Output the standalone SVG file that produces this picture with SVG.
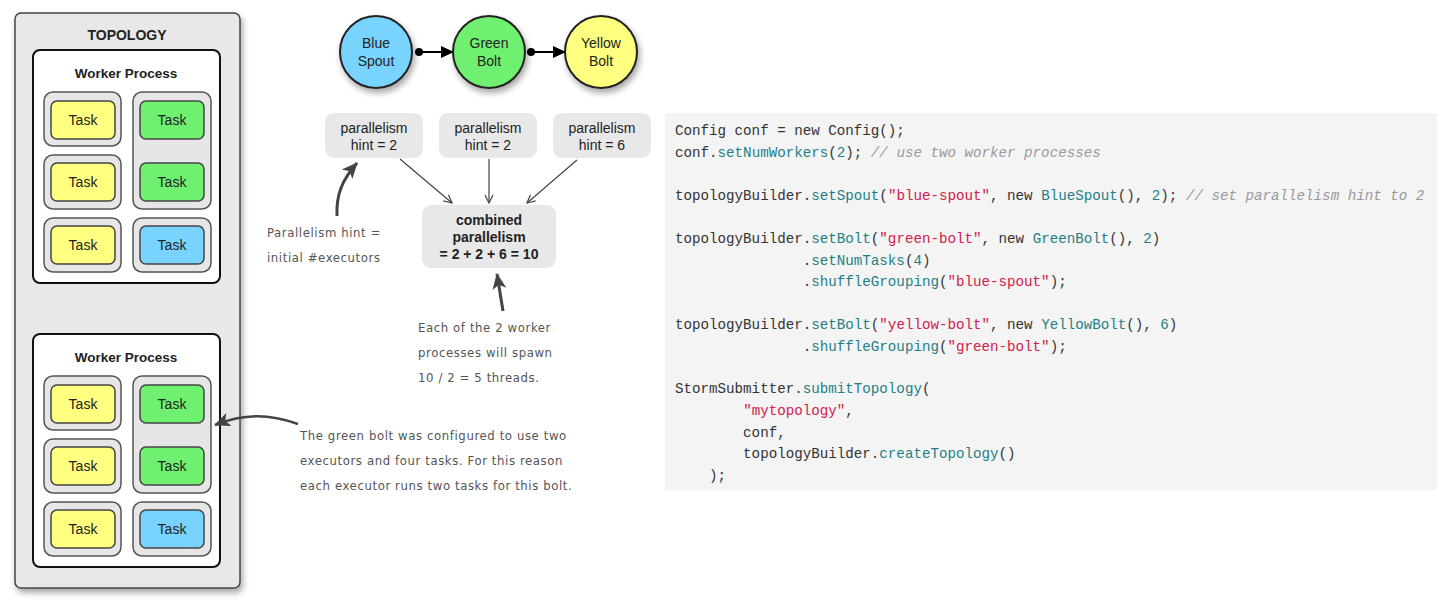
<svg xmlns="http://www.w3.org/2000/svg" width="1437" height="605" viewBox="0 0 1437 605">
<defs>
<style>
.sans{font-family:"Liberation Sans",Arial,sans-serif;fill:#222}
.b{font-weight:bold}
.exec{fill:#e6e6e6;stroke:#555;stroke-width:1.5}
.task{stroke:#444;stroke-width:1.5}
.y{fill:#ffff80}.g{fill:#70f070}.bl{fill:#78d4ff}
.tt{font-family:"Liberation Sans",Arial,sans-serif;font-size:14px;fill:#222;text-anchor:middle}
.hint{fill:#e8e8e8}
.hand{font-family:"DejaVu Sans Condensed","DejaVu Sans",sans-serif;font-size:13px;fill:#555;font-weight:300;letter-spacing:0.6px}
.code{font-family:"Liberation Mono","DejaVu Sans Mono",monospace;font-size:14.2px;fill:#333;white-space:pre}
.m{fill:#1f7f86}.s{fill:#d3204a}.c{fill:#999;font-style:italic}
.thin{stroke:#444;stroke-width:1.2;fill:none}
.thick{stroke:#444;stroke-width:3;fill:none}
</style>
<marker id="open" markerWidth="10" markerHeight="10" refX="9" refY="5" orient="auto" markerUnits="userSpaceOnUse"><path d="M1,1 L9,5 L1,9" fill="none" stroke="#444" stroke-width="1.2"/></marker>
<marker id="solid" markerWidth="14" markerHeight="14" refX="12" refY="7" orient="auto" markerUnits="userSpaceOnUse"><path d="M0,1 L13,7 L0,13 Z" fill="#000"/></marker>
<marker id="big" markerWidth="18" markerHeight="18" refX="15" refY="9" orient="auto" markerUnits="userSpaceOnUse"><path d="M0,2 L16,9 L0,16 L4,9 Z" fill="#444"/></marker>
<filter id="sh" x="-10%" y="-10%" width="130%" height="130%"><feDropShadow dx="2" dy="4" stdDeviation="3" flood-opacity="0.35"/></filter>
</defs>

<g id="topology">
<rect x="15" y="13" width="225" height="575" rx="6" fill="#e8e8e8" stroke="#444" stroke-width="1.5" filter="url(#sh)"/>
<text x="127" y="40" class="sans b" font-size="14" text-anchor="middle">TOPOLOGY</text>
</g>

<g id="worker1">
<rect x="33" y="50" width="187" height="233" rx="7" fill="#fff" stroke="#111" stroke-width="2"/>
<text x="126" y="78" class="sans b" font-size="13.5" text-anchor="middle">Worker Process</text>
<rect class="exec" x="44" y="92" width="77" height="54" rx="9"/>
<rect class="exec" x="44" y="155" width="77" height="54" rx="9"/>
<rect class="exec" x="44" y="218" width="77" height="54" rx="9"/>
<rect class="exec" x="133" y="92" width="78" height="117" rx="9"/>
<rect class="exec" x="133" y="218" width="78" height="54" rx="9"/>
<rect class="task y" x="51" y="101" width="64" height="38" rx="6"/><text class="tt" x="83" y="125">Task</text>
<rect class="task y" x="51" y="163" width="64" height="38" rx="6"/><text class="tt" x="83" y="187">Task</text>
<rect class="task y" x="51" y="226" width="64" height="38" rx="6"/><text class="tt" x="83" y="250">Task</text>
<rect class="task g" x="140" y="101" width="64" height="38" rx="6"/><text class="tt" x="172" y="125">Task</text>
<rect class="task g" x="140" y="163" width="64" height="38" rx="6"/><text class="tt" x="172" y="187">Task</text>
<rect class="task bl" x="140" y="226" width="64" height="38" rx="6"/><text class="tt" x="172" y="250">Task</text>
</g>

<g id="worker2" transform="translate(0,284)">
<rect x="33" y="50" width="187" height="233" rx="7" fill="#fff" stroke="#111" stroke-width="2"/>
<text x="126" y="78" class="sans b" font-size="13.5" text-anchor="middle">Worker Process</text>
<rect class="exec" x="44" y="92" width="77" height="54" rx="9"/>
<rect class="exec" x="44" y="155" width="77" height="54" rx="9"/>
<rect class="exec" x="44" y="218" width="77" height="54" rx="9"/>
<rect class="exec" x="133" y="92" width="78" height="117" rx="9"/>
<rect class="exec" x="133" y="218" width="78" height="54" rx="9"/>
<rect class="task y" x="51" y="101" width="64" height="38" rx="6"/><text class="tt" x="83" y="125">Task</text>
<rect class="task y" x="51" y="163" width="64" height="38" rx="6"/><text class="tt" x="83" y="187">Task</text>
<rect class="task y" x="51" y="226" width="64" height="38" rx="6"/><text class="tt" x="83" y="250">Task</text>
<rect class="task g" x="140" y="101" width="64" height="38" rx="6"/><text class="tt" x="172" y="125">Task</text>
<rect class="task g" x="140" y="163" width="64" height="38" rx="6"/><text class="tt" x="172" y="187">Task</text>
<rect class="task bl" x="140" y="226" width="64" height="38" rx="6"/><text class="tt" x="172" y="250">Task</text>
</g>

<g id="blue-spout">
<circle cx="376" cy="52" r="36" fill="#78d4ff" stroke="#222" stroke-width="2" filter="url(#sh)"/>
<text class="tt" x="376" y="48">Blue</text><text class="tt" x="376" y="66">Spout</text>
</g>
<g id="green-bolt">
<circle cx="489" cy="52" r="36" fill="#70f070" stroke="#222" stroke-width="2" filter="url(#sh)"/>
<text class="tt" x="489" y="48">Green</text><text class="tt" x="489" y="66">Bolt</text>
</g>
<g id="yellow-bolt">
<circle cx="601" cy="52" r="36" fill="#ffff80" stroke="#222" stroke-width="2" filter="url(#sh)"/>
<text class="tt" x="601" y="48">Yellow</text><text class="tt" x="601" y="66">Bolt</text>
</g>

<g id="hint1"><rect class="hint" x="325" y="113" width="98" height="45" rx="9"/>
<text class="tt" x="374" y="133">parallelism</text><text class="tt" x="374" y="150">hint = 2</text></g>
<g id="hint2"><rect class="hint" x="439" y="113" width="98" height="45" rx="9"/>
<text class="tt" x="488" y="133">parallelism</text><text class="tt" x="488" y="150">hint = 2</text></g>
<g id="hint3"><rect class="hint" x="553" y="113" width="98" height="45" rx="9"/>
<text class="tt" x="602" y="133">parallelism</text><text class="tt" x="602" y="150">hint = 6</text></g>
<g id="combined"><rect class="hint" x="422" y="205" width="134" height="63" rx="9"/>
<text class="tt b" x="489" y="225">combined</text><text class="tt b" x="489" y="242">parallelism</text><text class="tt b" x="489" y="259">= 2 + 2 + 6 = 10</text></g>

<g id="connectors">
<circle cx="419" cy="52" r="4" fill="#000"/>
<line x1="419" y1="52" x2="453" y2="52" stroke="#000" stroke-width="2" marker-end="url(#solid)"/>
<circle cx="531" cy="52" r="4" fill="#000"/>
<line x1="531" y1="52" x2="565" y2="52" stroke="#000" stroke-width="2" marker-end="url(#solid)"/>
<line class="thin" x1="400" y1="159" x2="452" y2="203" marker-end="url(#open)"/>
<line class="thin" x1="489" y1="159" x2="489" y2="203" marker-end="url(#open)"/>
<line class="thin" x1="577" y1="160" x2="527" y2="203" marker-end="url(#open)"/>
<path class="thick" d="M337,216 C336,195 342,180 357,163" marker-end="url(#big)"/>
<path class="thick" d="M503,311 L497,274" marker-end="url(#big)"/>
<path d="M298,424 C270,414 245,413 215,425" stroke="#444" stroke-width="2.5" fill="none" marker-end="url(#big)"/>
</g>

<g id="notes">
<text class="hand" x="267" y="237">Parallelism hint =</text>
<text class="hand" x="267" y="262">initial #executors</text>
<text class="hand" x="418" y="332">Each of the 2 worker</text>
<text class="hand" x="418" y="357">processes will spawn</text>
<text class="hand" x="418" y="382">10 / 2 = 5 threads.</text>
<text class="hand" x="300" y="440">The green bolt was configured to use two</text>
<text class="hand" x="300" y="465">executors and four tasks.  For this reason</text>
<text class="hand" x="300" y="490">each executor runs two tasks for this bolt.</text>
</g>

<g id="code">
<rect x="665" y="113" width="772" height="377" fill="#f4f4f4"/>
<text class="code" x="675" y="135">Config conf = new Config();</text>
<text class="code" x="675" y="157">conf.<tspan class="m">setNumWorkers</tspan>(<tspan class="m">2</tspan>); <tspan class="c">// use two worker processes</tspan></text>
<text class="code" x="675" y="200">topologyBuilder.<tspan class="m">setSpout</tspan>(<tspan class="s">"blue-spout"</tspan>, new <tspan class="m">BlueSpout</tspan>(), <tspan class="m">2</tspan>); <tspan class="c">// set parallelism hint to 2</tspan></text>
<text class="code" x="675" y="243">topologyBuilder.<tspan class="m">setBolt</tspan>(<tspan class="s">"green-bolt"</tspan>, new <tspan class="m">GreenBolt</tspan>(), <tspan class="m">2</tspan>)</text>
<text class="code" x="675" y="265">               .<tspan class="m">setNumTasks</tspan>(<tspan class="m">4</tspan>)</text>
<text class="code" x="675" y="286">               .<tspan class="m">shuffleGrouping</tspan>(<tspan class="s">"blue-spout"</tspan>);</text>
<text class="code" x="675" y="329">topologyBuilder.<tspan class="m">setBolt</tspan>(<tspan class="s">"yellow-bolt"</tspan>, new <tspan class="m">YellowBolt</tspan>(), <tspan class="m">6</tspan>)</text>
<text class="code" x="675" y="351">               .<tspan class="m">shuffleGrouping</tspan>(<tspan class="s">"green-bolt"</tspan>);</text>
<text class="code" x="675" y="393">StormSubmitter.<tspan class="m">submitTopology</tspan>(</text>
<text class="code" x="675" y="415">        <tspan class="s">"mytopology"</tspan>,</text>
<text class="code" x="675" y="437">        conf,</text>
<text class="code" x="675" y="458">        topologyBuilder.<tspan class="m">createTopology</tspan>()</text>
<text class="code" x="675" y="480">    );</text>
</g>
</svg>
